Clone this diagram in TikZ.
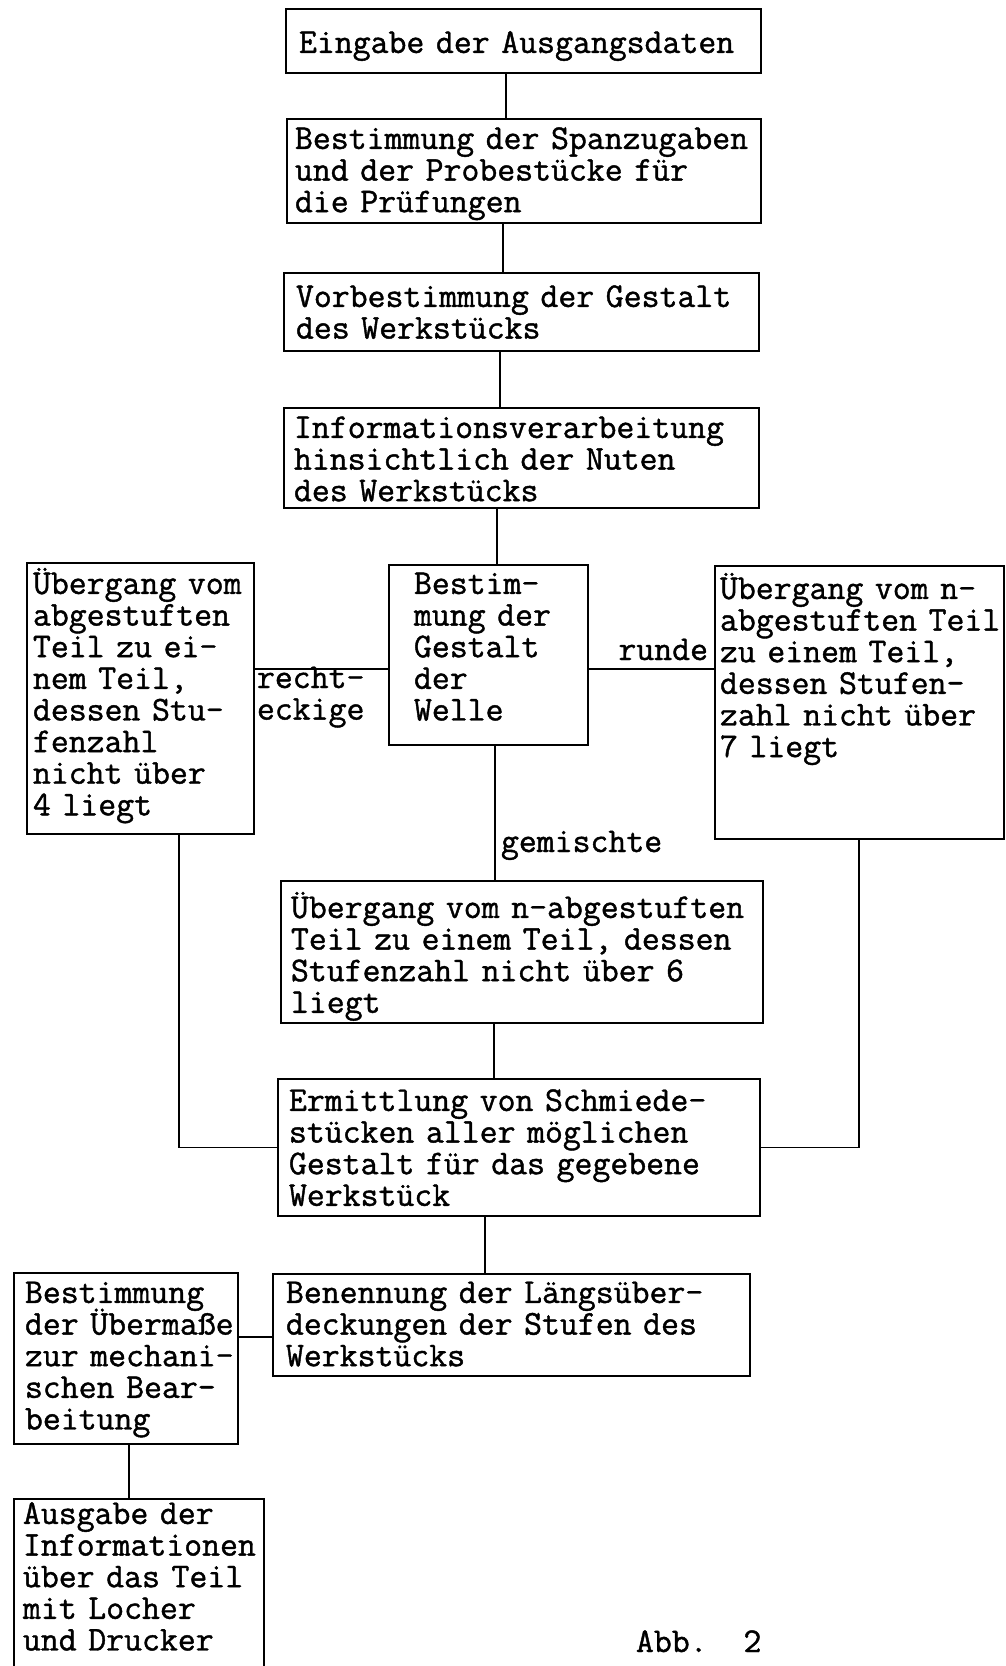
\documentclass[tikz,border=0pt]{standalone}
\usepackage{fontspec}
\usepackage{tikz}

\newfontfamily\schreibmaschine{Latin Modern Mono}[BoldFont=Latin Modern Mono, BoldFeatures={FakeBold=1.2}]
\newcommand{\schrift}{\fontsize{19.8}{18}\selectfont\schreibmaschine\bfseries\lineskiplimit=-20pt\hyphenpenalty=10000\exhyphenpenalty=10000}

\begin{document}
\begin{tikzpicture}[x=0.02cm, y=-0.02cm, line width=1.1pt,
		kasten/.style={draw, anchor=north west, align=left, inner ysep=0pt, font=\schrift},
		marke/.style={inner sep=0pt, font=\schrift}]
		\useasboundingbox (0,0) rectangle (1005,1666);
		
		% Hauptkette oben
		\node[kasten, inner xsep=0.26cm, text width=8.98cm, text height=0.88cm, text depth=0.40cm] (eingabe) at (285,8) {Eingabe der Ausgangsdaten};
		\node[kasten, inner xsep=0.16cm, text width=9.16cm, text height=0.60cm, text depth=1.48cm] (spanzugabe) at (286,118) {Bestimmung~der~Spanzugaben\\und der Probestücke für\\die Prüfungen};
		\node[kasten, inner xsep=0.24cm, text width=9.02cm, text height=0.68cm, text depth=0.88cm] (vorgestalt) at (283,272) {Vorbestimmung der Gestalt\\des Werkstücks};
		\node[kasten, inner xsep=0.20cm, text width=9.10cm, text height=0.60cm, text depth=1.40cm] (nuten) at (283,407) {Informationsverarbeitung\\hinsichtlich der Nuten\\des Werkstücks};
		
		% Verzweigung nach der Gestalt der Welle
		\node[kasten, inner xsep=0.12cm, text width=4.30cm, text height=0.62cm, text depth=4.80cm] (vier) at (26,562) {Übergang~vom\\abgestuften\\Teil zu ei-\\nem Teil,\\dessen Stu-\\fenzahl\\nicht über\\4 liegt};
		\node[kasten, inner xsep=0.50cm, text width=2.98cm, text height=0.58cm, text depth=3.02cm] (welle) at (388,564) {Bestim-\\mung der\\Gestalt\\der\\Welle};
		\node[kasten, inner xsep=0.10cm, text width=5.58cm, text height=0.66cm, text depth=4.80cm] (sieben) at (714,565) {Übergang~vom~n-\\abgestuften~Teil\\zu einem Teil,\\dessen Stufen-\\zahl~nicht~über\\7 liegt};
		\node[kasten, inner xsep=0.20cm, text width=9.24cm, text height=0.74cm, text depth=2.10cm] (sechs) at (280,880) {Übergang~vom~n-abgestuften\\Teil~zu~einem~Teil,~dessen\\Stufenzahl nicht über 6\\liegt};
		
		% Zusammenfuehrung und Ausgabe
		\node[kasten, inner xsep=0.22cm, text width=9.20cm, text height=0.64cm, text depth=2.10cm] (schmiede) at (277,1078) {Ermittlung von Schmiede-\\stücken aller möglichen\\Gestalt für das gegebene\\Werkstück};
		\node[kasten, inner xsep=0.26cm, text width=9.02cm, text height=0.58cm, text depth=1.46cm] (laenge) at (272,1273) {Benennung der Längsüber-\\deckungen der Stufen des\\Werkstücks};
		\node[kasten, inner xsep=0.22cm, text width=4.04cm, text height=0.60cm, text depth=2.82cm] (uebermass) at (13,1272) {Bestimmung\\der~Übermaße\\zur~mechani-\\schen~Bear-\\beitung};
		\node[kasten, inner xsep=0.18cm, text width=4.64cm, text height=0.50cm, text depth=3.32cm] (ausgabe) at (13,1498) {Ausgabe der\\Informationen\\über~das~Teil\\mit Locher\\und Drucker};
		
		\node[marke, anchor=base east] (runde) at (709,660) {runde};
		\node[marke, anchor=base west, text width=2.4cm, align=left] (eckig) at (256,688) {recht-\\eckige};
		\node[marke, anchor=base west] (gemischt) at (500,852) {gemischte};
		\node[marke, anchor=base west] (abb) at (635,1652) {Abb.~~2};
		
		\draw ([xshift=-0.35cm]eingabe.south) coordinate (v1) -- (v1 |- spanzugabe.north);
		\draw ([xshift=-0.42cm]spanzugabe.south) coordinate (v2) -- (v2 |- vorgestalt.north);
		\draw ([xshift=-0.43cm]vorgestalt.south) coordinate (v3) -- (v3 |- nuten.north);
		\draw ([xshift=-0.49cm]nuten.south) coordinate (v4) -- (v4 |- welle.north);
		\draw ([yshift=-0.28cm]welle.west) coordinate (h1) -- (h1 -| vier.east);
		\draw ([yshift=-0.28cm]welle.east) coordinate (h2) -- (h2 -| sieben.west);
		\draw ([xshift=0.13cm]welle.south) coordinate (v5) -- (v5 |- sechs.north);
		\draw ([xshift=-0.56cm]sechs.south) coordinate (v6) -- (v6 |- schmiede.north);
		\draw ([xshift=0.77cm]vier.south) |- (schmiede.west);
		\draw ([xshift=-0.01cm]sieben.south) |- (schmiede.east);
		\draw ([xshift=-0.68cm]schmiede.south) coordinate (v7) -- (v7 |- laenge.north);
		\draw ([yshift=-0.24cm]laenge.west) coordinate (h3) -- (h3 -| uebermass.east);
		\draw ([xshift=0.06cm]uebermass.south) coordinate (v8) -- (v8 |- ausgabe.north);
\end{tikzpicture}
\end{document}
